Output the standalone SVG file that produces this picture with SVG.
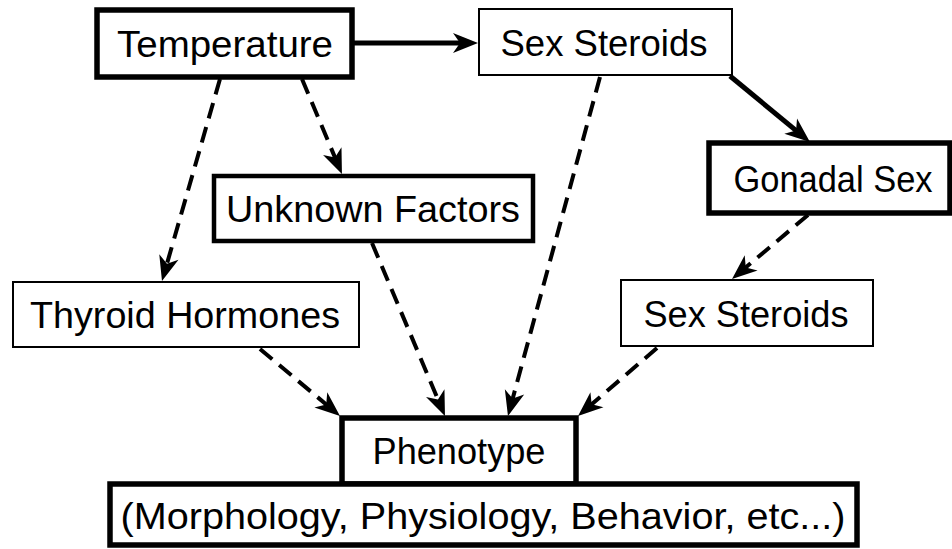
<svg xmlns="http://www.w3.org/2000/svg" width="952" height="549" viewBox="0 0 952 549">
<style>
.box{fill:#fff;stroke:#000}
.thick{stroke-width:5.5}
.thin{stroke-width:2}
.lbl{font-family:"Liberation Sans",Arial,sans-serif;font-size:37px;fill:#000;text-anchor:middle}
.solid{stroke:#000;stroke-width:5;fill:none}
.dash{stroke:#000;stroke-width:4;fill:none;stroke-dasharray:16 9}
</style>
<defs>
<marker id="ah" markerUnits="userSpaceOnUse" markerWidth="40" markerHeight="40" refX="0" refY="0" orient="auto" overflow="visible">
<path d="M12,0 L-13,-10 L-6,0 L-13,10 Z" fill="#000"/>
</marker>
</defs>
<rect width="952" height="549" fill="#fff"/>
<g id="connectors">
<line class="solid" x1="352" y1="43" x2="466" y2="43" marker-end="url(#ah)"/>
<line class="solid" x1="730" y1="76" x2="800.7" y2="134.4" marker-end="url(#ah)"/>
<line class="dash" x1="220" y1="79" x2="165.3" y2="269.5" marker-end="url(#ah)"/>
<line class="dash" x1="302" y1="79" x2="337.3" y2="163" marker-end="url(#ah)"/>
<line class="dash" x1="808" y1="215" x2="741.2" y2="271.3" marker-end="url(#ah)"/>
<line class="dash" x1="260" y1="349" x2="330.8" y2="408.3" marker-end="url(#ah)"/>
<line class="dash" x1="372" y1="243" x2="440.3" y2="405" marker-end="url(#ah)"/>
<line class="dash" x1="600" y1="77" x2="511.1" y2="404.4" marker-end="url(#ah)"/>
<line class="dash" x1="657" y1="348" x2="587.1" y2="408.2" marker-end="url(#ah)"/>
</g>
<g id="temperature">
<rect class="box thick" x="97" y="10" width="255" height="67"/>
<text class="lbl" x="225" y="57" textLength="216" lengthAdjust="spacingAndGlyphs">Temperature</text>
</g>
<g id="sex-steroids-top">
<rect class="box thin" x="479" y="9" width="253" height="66"/>
<text class="lbl" x="604" y="56" textLength="207" lengthAdjust="spacingAndGlyphs">Sex Steroids</text>
</g>
<g id="unknown-factors">
<rect class="box" stroke-width="4.5" x="214" y="176" width="319" height="65"/>
<text class="lbl" x="373" y="222" textLength="294" lengthAdjust="spacingAndGlyphs">Unknown Factors</text>
</g>
<g id="gonadal-sex">
<rect class="box thick" x="709" y="143" width="241" height="70"/>
<text class="lbl" x="833" y="192" textLength="199" lengthAdjust="spacingAndGlyphs">Gonadal Sex</text>
</g>
<g id="thyroid-hormones">
<rect class="box thin" x="13" y="282" width="346" height="65"/>
<text class="lbl" x="185" y="328" textLength="310" lengthAdjust="spacingAndGlyphs">Thyroid Hormones</text>
</g>
<g id="sex-steroids-bottom">
<rect class="box thin" x="621" y="280" width="252" height="66"/>
<text class="lbl" x="746" y="327" textLength="205" lengthAdjust="spacingAndGlyphs">Sex Steroids</text>
</g>
<g id="phenotype">
<rect class="box thick" x="342" y="418" width="234" height="66"/>
<text class="lbl" x="459" y="464" textLength="173" lengthAdjust="spacingAndGlyphs">Phenotype</text>
</g>
<g id="phenotype-detail">
<rect class="box thick" x="110" y="484" width="747" height="61"/>
<text class="lbl" x="483" y="529" textLength="725" lengthAdjust="spacingAndGlyphs">(Morphology, Physiology, Behavior, etc...)</text>
</g>
</svg>
